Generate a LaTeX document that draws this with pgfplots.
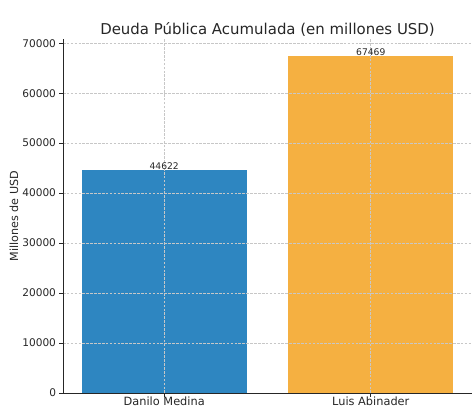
\documentclass[border=0pt]{standalone}
\usepackage{pgfplots}
\pgfplotsset{compat=1.18}
\usepackage{fontspec}
\setmainfont{DejaVu Sans}
\definecolor{barblue}{HTML}{2E86C1}
\definecolor{barorange}{HTML}{F5B041}
\definecolor{txt}{HTML}{262626}
\begin{document}
\begin{tikzpicture}
\useasboundingbox (-63bp,-14bp) rectangle (409bp,393bp);
\begin{axis}[
  at={(0,0)}, anchor=south west,
  scale only axis, width=409bp, height=354bp,
  xmin=-0.49, xmax=1.49, ymin=0, ymax=70842,
  axis lines=left,
  axis line style={-, draw=txt, line width=0.8pt},
  xtick={0,1}, xticklabels={Danilo Medina, Luis Abinader},
  ytick={0,10000,20000,30000,40000,50000,60000,70000},
  scaled y ticks=false,
  /pgf/number format/assume math mode=true,
  /pgf/number format/fixed,
  /pgf/number format/1000 sep={},
  yticklabel style={font=\fontsize{10.6}{12}\selectfont, text=txt},
  xticklabel style={font=\fontsize{11.4}{13}\selectfont, text=txt, yshift=3.5bp},
  tick align=outside, major tick length=3.5bp,
  tick style={draw=txt, line width=0.8pt},
  grid=major,
  grid style={draw=black!22, line width=0.6pt, dash pattern=on 2.6bp off 1.3bp},
  axis on top,
  title={Deuda Pública Acumulada (en millones USD)},
  title style={at={(axis description cs:0.5,1)}, anchor=base, yshift=-1bp, font=\fontsize{15}{18}\selectfont, text=txt},
  ylabel={Millones de USD},
  ylabel style={at={(axis description cs:-0.1198,0.5)}, anchor=center, font=\fontsize{11.2}{13}\selectfont, text=txt},
  nodes near coords,
  nodes near coords style={font=\fontsize{9.2}{11}\selectfont, text=txt, inner sep=0.5bp, anchor=south},
]
\addplot[ybar, bar width=0.8, bar shift=0pt, fill=barblue, draw=none] coordinates {(0,44622)};
\addplot[ybar, bar width=0.8, bar shift=0pt, fill=barorange, draw=none] coordinates {(1,67469)};
\end{axis}
\end{tikzpicture}
\end{document}
